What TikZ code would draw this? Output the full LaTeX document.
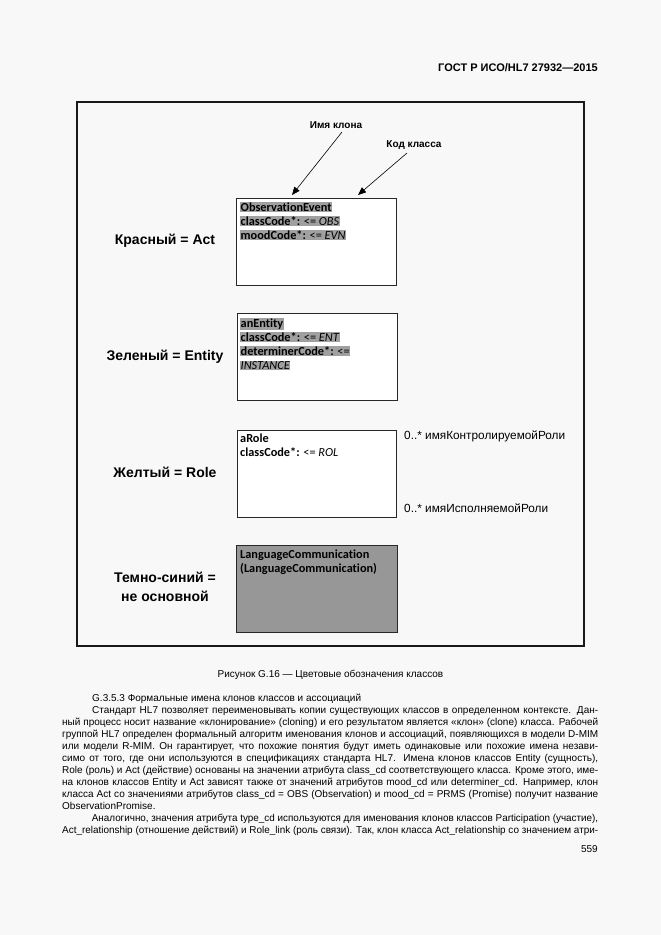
\documentclass[tikz,border=0pt]{standalone}
\usepackage{fontspec}
\usepackage{graphicx}
\setmainfont{Liberation Sans}
\newfontfamily\calfont[Ligatures=NoCommon]{Carlito}
\usetikzlibrary{arrows.meta}
\definecolor{pagebg}{RGB}{248,248,248}
\definecolor{hlgray}{RGB}{160,160,160}
\definecolor{boxgray}{RGB}{151,151,151}
\definecolor{edge}{RGB}{40,40,40}
\newlength\natw
\newcommand\jline[1]{\settowidth\natw{#1}\ifdim\natw>536pt\relax\resizebox{536pt}{\height}{#1}\else\makebox[536pt][s]{#1}\fi}
\newcommand\hl[1]{{\setlength\fboxsep{0.5pt}\colorbox{hlgray}{#1}}}
\newcommand\ind{\hspace*{30pt}}
\tikzset{
  clsbox/.style={draw=edge, line width=1.3pt, fill=white, minimum width=#1, minimum height=87pt, anchor=north west, inner sep=0pt},
  clstext/.style={anchor=north west, inner sep=0pt, align=left, font=\calfont\fontsize{12.3}{14}\selectfont},
  lbl/.style={font=\bfseries\fontsize{14}{19}\selectfont, align=center, inner sep=0pt},
  arrlbl/.style={font=\bfseries\fontsize{10}{12}\selectfont, inner sep=0pt},
  mult/.style={font=\fontsize{11.8}{14}\selectfont, anchor=west, inner sep=0pt},
  arr/.style={-{Triangle[length=8pt,width=6.5pt]}, line width=0.6pt, black},
}
\begin{document}
\begin{tikzpicture}[x=1pt,y=-1pt]
\useasboundingbox (0,0) rectangle (661,935);
\fill[pagebg] (0,0) rectangle (661,935);
% header
\node[anchor=base east, inner sep=0pt, font=\bfseries\fontsize{11}{13}\selectfont] (hdr) at (598,71) {ГОСТ Р ИСО/HL7 27932—2015};
% frame
\draw[line width=2.4pt, black!90] (77,102) rectangle (584,646);
% class boxes
\node[clsbox=160pt] (act) at (236,198) {};
\node[clsbox=160pt] (ent) at (237,313) {};
\node[clsbox=159pt] (role) at (237,430) {};
\node[clsbox=161pt, fill=boxgray] (oth) at (236,545) {};
% class texts
\node[clstext] (acttx) at (240,202) {\hl{\textbf{ObservationEvent}}\\\hl{\textbf{classCode*:} <= \textit{OBS}}\\\hl{\textbf{moodCode*:} <= \textit{EVN}}};
\node[clstext] (enttx) at (240,318) {\hl{\textbf{anEntity}}\\\hl{\textbf{classCode*:} <= \textit{ENT}}\\\hl{\textbf{determinerCode*:} <=}\\\hl{\textit{INSTANCE}}};
\node[clstext] (roletx) at (240,434) {\textbf{aRole}\\\textbf{classCode*:} <= \textit{ROL}};
\node[clstext] (othtx) at (240,550) {\textbf{LanguageCommunication}\\\textbf{(LanguageCommunication)}};
% left labels
\node[lbl] (lact) at (165,241) {Красный = Act};
\node[lbl] (lent) at (165,357) {Зеленый = Entity};
\node[lbl] (lrole) at (165,472) {Желтый = Role};
\node[lbl] (loth) at (165,587) {Темно-синий =\\не основной};
% arrow labels
\node[arrlbl] (lname) at (336,125) {Имя клона};
\node[arrlbl] (lcode) at (414,145) {Код класса};
\coordinate (s1) at (342,132);
\coordinate (t1) at (292,195);
\coordinate (s2) at (407,153);
\coordinate (t2) at (358,195);
\draw[arr] (s1) -- (t1);
\draw[arr] (s2) -- (t2);
% multiplicities
\node[mult] (m1) at (404,436) {0..* имяКонтролируемойРоли};
\node[mult] (m2) at (404,508) {0..* имяИсполняемойРоли};
% caption
\node[anchor=base, inner sep=0pt, font=\fontsize{10}{12}\selectfont] (cap) at (330.5,677) {Рисунок G.16 — Цветовые обозначения классов};
% body text
\node[anchor=north west, inner sep=0pt, align=left, font=\fontsize{10}{12}\selectfont] (body) at (62,694) {%
\ind G.3.5.3 Формальные имена клонов классов и ассоциаций\\
\jline{\ind Стандарт HL7 позволяет переименовывать копии существующих классов в определенном контексте. Дан-}\\
\jline{ный процесс носит название «клонирование» (cloning) и его результатом является «клон» (clone) класса. Рабочей}\\
\jline{группой HL7 определен формальный алгоритм именования клонов и ассоциаций, появляющихся в модели D-MIM}\\
\jline{или модели R-MIM. Он гарантирует, что похожие понятия будут иметь одинаковые или похожие имена незави-}\\
\jline{симо от того, где они используются в спецификациях стандарта HL7. Имена клонов классов Entity (сущность),}\\
\jline{Role (роль) и Act (действие) основаны на значении атрибута class\_cd соответствующего класса. Кроме этого, име-}\\
\jline{на клонов классов Entity и Act зависят также от значений атрибутов mood\_cd или determiner\_cd. Например, клон}\\
\jline{класса Act со значениями атрибутов class\_cd = OBS (Observation) и mood\_cd = PRMS (Promise) получит название}\\
ObservationPromise.\\
\jline{\ind Аналогично, значения атрибута type\_cd используются для именования клонов классов Participation (участие),}\\
\jline{Act\_relationship (отношение действий) и Role\_link (роль связи). Так, клон класса Act\_relationship со значением атри-}};
% page number
\node[anchor=base east, inner sep=0pt, font=\fontsize{10}{12}\selectfont] (pg) at (598,852) {559};
\end{tikzpicture}
\end{document}
